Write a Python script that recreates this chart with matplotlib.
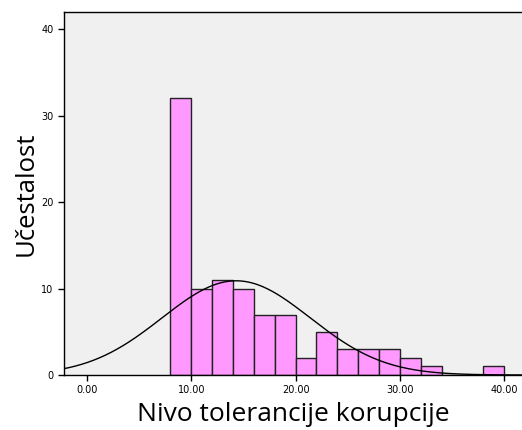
import numpy as np
import matplotlib.pyplot as plt

# histogram bins (width 2) and counts
bin_edges = [8, 10, 12, 14, 16, 18, 20, 22, 24, 26, 28, 30, 32, 34, 36, 38, 40]
counts = [32, 10, 11, 10, 7, 7, 2, 5, 3, 3, 3, 2, 1, 0, 0, 1]

# fitted normal curve parameters (estimated)
mean_val = 14.3
sd_val = 7.1
n_total = sum(counts)
bin_width = 2

x_ticks = [0, 10, 20, 30, 40]
x_tick_labels = ['0.00', '10.00', '20.00', '30.00', '40.00']
y_ticks = [0, 10, 20, 30, 40]

fig = plt.figure(figsize=(5.22, 4.30), dpi=100)
ax = fig.add_axes([64 / 522, 1 - 375 / 430, 458 / 522, 363 / 430])
ax.set_facecolor('#f0f0f0')

lefts = bin_edges[:-1]
ax.bar(lefts, counts, width=bin_width, align='edge', color='#ff99ff',
       edgecolor='#222222', linewidth=1.0, zorder=2)

xs = np.linspace(-3, 42, 400)
ys = n_total * bin_width / (sd_val * np.sqrt(2 * np.pi)) * np.exp(-0.5 * ((xs - mean_val) / sd_val) ** 2)
ax.plot(xs, ys, color='black', linewidth=1.0, zorder=3)

ax.set_xlim(-2.2, 41.7)
ax.set_ylim(0, 42)
ax.set_xticks(x_ticks)
ax.set_xticklabels(x_tick_labels)
ax.set_yticks(y_ticks)
ax.tick_params(axis='both', labelsize=7, length=4, width=1, direction='out', color='black')
for side in ['left', 'top', 'bottom']:
    ax.spines[side].set_color('black')
    ax.spines[side].set_linewidth(1.0)
ax.spines['right'].set_visible(False)

ax.set_xlabel('Nivo tolerancije korupcije', fontsize=19, family='Open Sans', labelpad=5)
ax.set_ylabel('Učestalost', fontsize=18.5, family='Open Sans', labelpad=2)

fig.savefig('out.png', dpi=100)
